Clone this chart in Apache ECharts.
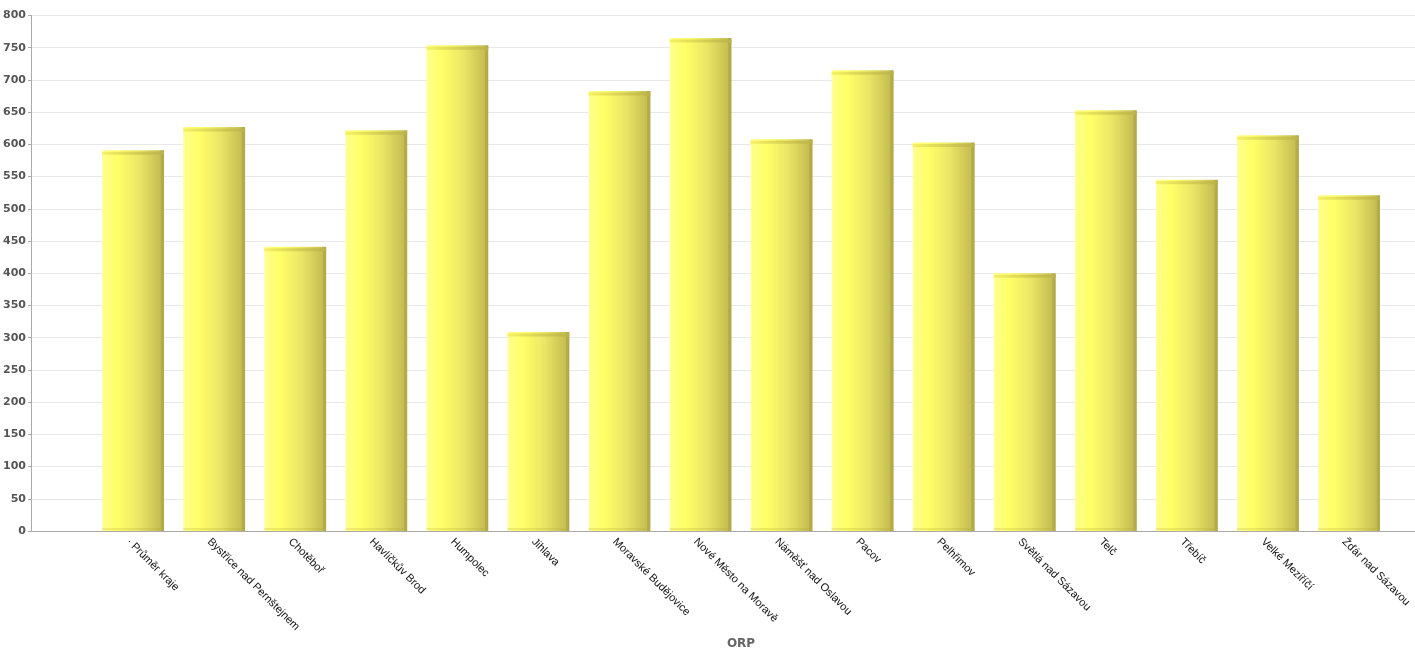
<!DOCTYPE html>
<html>
<head>
<meta charset="utf-8">
<script src="https://cdn.jsdelivr.net/npm/echarts@6/dist/echarts.min.js"></script>
<style>
    html, body {margin: 0; padding: 0; background: #fff;}
    #chart {width: 1415px; height: 654px;}
</style>
</head>
<body>
<div id="chart"></div>
<script>
const CATEGORIES = ['· Průměr kraje', 'Bystřice nad Pernštejnem', 'Chotěboř', 'Havlíčkův Brod', 'Humpolec', 'Jihlava',
    'Moravské Budějovice', 'Nové Město na Moravě', 'Náměšť nad Oslavou', 'Pacov', 'Pelhřimov', 'Světlá nad Sázavou',
    'Telč', 'Třebíč', 'Velké Meziříčí', 'Žďár nad Sázavou']
const VALUES = [591, 627, 441, 622, 754, 309, 683, 765, 608, 715, 603, 400, 653, 545, 614, 521]
const Y_MIN = 0
const Y_MAX = 800
const Y_STEP = 50

// 柱子主体的横向渐变
const barFill = new echarts.graphic.LinearGradient(0, 0, 1, 0, [
    {offset: 0, color: '#ffffb0'},
    {offset: 0.04, color: '#ffff88'},
    {offset: 0.25, color: '#ffff66'},
    {offset: 0.6, color: '#eae666'},
    {offset: 0.94, color: '#c6be52'},
    {offset: 0.95, color: '#b6ae4a'},
    {offset: 1, color: '#b0a846'}
])
const capFill = new echarts.graphic.LinearGradient(0, 0, 1, 0, [
    {offset: 0, color: '#f6f262'},
    {offset: 1, color: '#bab24a'}
])

const chart = echarts.init(document.getElementById('chart'))
const option = {
    animation: false,
    grid: [
        {left: 31, right: 0, top: 15.5, bottom: 123, outerBoundsMode: 'none'},
        {left: 92.5, right: 25.5, top: 15.5, bottom: 123, outerBoundsMode: 'none'},
        // 只放类目文字，稍微往左挪一点
        {left: 87.5, right: 30.5, top: 15.5, bottom: 123, outerBoundsMode: 'none'}
    ],
    xAxis: [{
        gridIndex: 0,
        type: 'value',
        min: 0,
        max: 1,
        axisLine: {show: true, lineStyle: {color: '#aaaaaa'}},
        axisTick: {show: false},
        axisLabel: {show: false},
        splitLine: {show: false}
    }, {
        gridIndex: 1,
        type: 'category',
        data: CATEGORIES,
        name: 'ORP',
        nameLocation: 'middle',
        nameGap: 107,
        nameTextStyle: {color: '#666', fontWeight: 'bold', fontSize: 12, fontFamily: 'DejaVu Sans'},
        axisLine: {show: false},
        axisTick: {show: false},
        axisLabel: {show: false}
    }, {
        gridIndex: 2,
        type: 'category',
        data: CATEGORIES,
        axisLine: {show: false},
        axisTick: {show: false},
        axisLabel: {
            rotate: -45,
            interval: 0,
            margin: 9,
            color: '#111',
            fontSize: 11,
            fontFamily: 'Liberation Sans'
        }
    }],
    yAxis: [{
        gridIndex: 0,
        type: 'value',
        min: Y_MIN,
        max: Y_MAX,
        interval: Y_STEP,
        axisLine: {show: true, lineStyle: {color: '#aaaaaa'}},
        axisTick: {show: true, length: 3, lineStyle: {color: '#aaaaaa'}},
        axisLabel: {
            color: '#555',
            fontWeight: 'bold',
            fontSize: 11,
            fontFamily: 'DejaVu Sans',
            margin: 5
        },
        splitLine: {show: true, lineStyle: {color: '#e8e8e8'}}
    }, {
        gridIndex: 1,
        type: 'value',
        min: Y_MIN,
        max: Y_MAX,
        show: false
    }, {
        gridIndex: 2,
        type: 'value',
        min: Y_MIN,
        max: Y_MAX,
        show: false
    }],
    series: [{
        type: 'bar',
        xAxisIndex: 1,
        yAxisIndex: 1,
        barWidth: 62,
        itemStyle: {color: barFill},
        data: VALUES
    }, {
        // 顶部的深色边
        type: 'pictorialBar',
        xAxisIndex: 1,
        yAxisIndex: 1,
        symbol: 'rect',
        symbolSize: [62, 3],
        symbolPosition: 'end',
        symbolOffset: [0, 1.5],
        itemStyle: {color: capFill},
        z: 3,
        data: VALUES
    }, {
        // 底部的暗边
        type: 'pictorialBar',
        xAxisIndex: 1,
        yAxisIndex: 1,
        symbol: 'rect',
        symbolSize: [58, 2],
        symbolPosition: 'start',
        symbolOffset: [-2, -1],
        itemStyle: {color: 'rgba(170,160,50,0.22)'},
        z: 3,
        data: VALUES
    }]
}
chart.setOption(option)
</script>
</body>
</html>
